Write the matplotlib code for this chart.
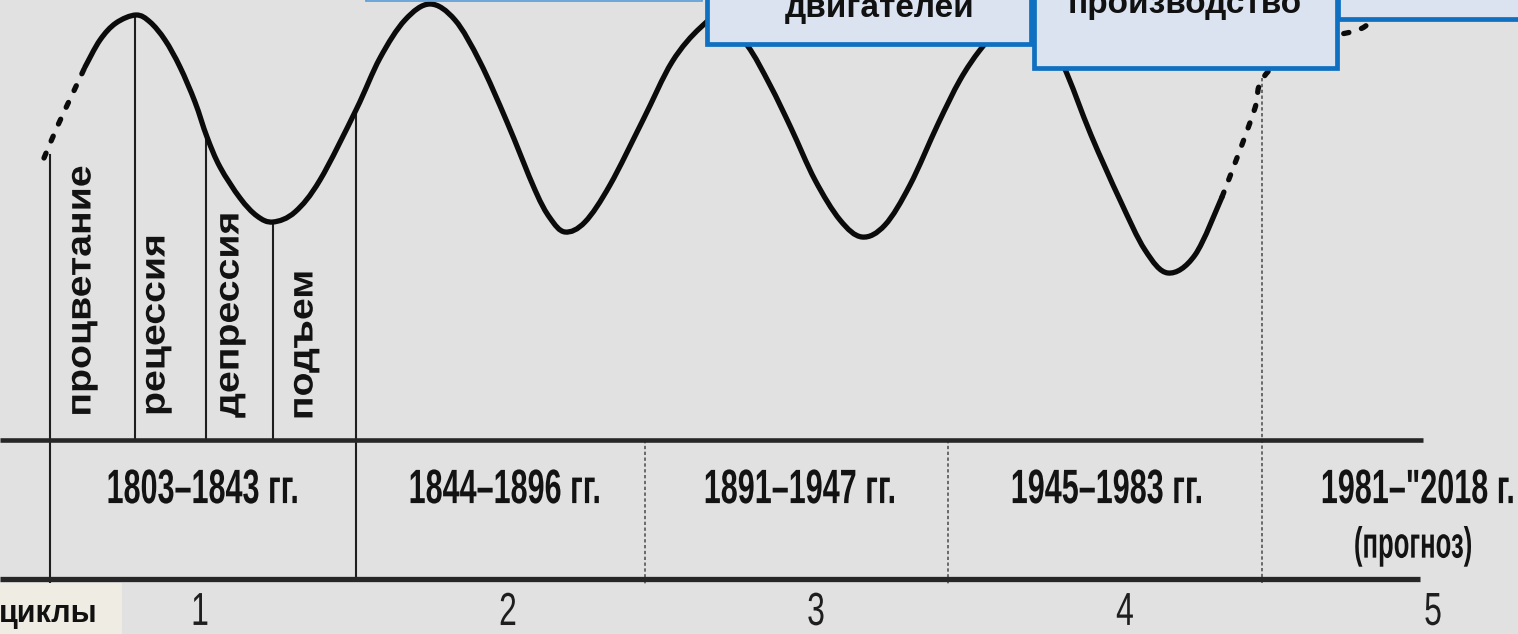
import matplotlib
matplotlib.use("Agg")
import matplotlib.pyplot as plt
from matplotlib.path import Path
from matplotlib.patches import PathPatch, Rectangle
from matplotlib.patheffects import AbstractPathEffect
from matplotlib.transforms import Affine2D
import numpy as np

plt.rcParams['font.family'] = ['Liberation Sans', 'DejaVu Sans']

# ---------------- data ----------------
phase_labels = ["процветание", "рецессия", "депрессия", "подъем"]
phase_bounds = [50, 135, 206, 273, 356]
phase_tops = [155, 15, 140, 222, 110]          # where each boundary meets the wave
phase_label_x = [81, 155, 229, 303]
phase_label_y = [291, 325, 315, 345]

period_labels = ["1803–1843 гг.", "1844–1896 гг.", "1891–1947 гг.",
                 "1945–1983 гг.", "1981–\"2018 г."]
period_label_x = [203, 505, 800, 1107, 1418]
period_note = "(прогноз)"
dotted_bounds = [645, 948, 1262]

cycle_numbers = ["1", "2", "3", "4", "5"]
cycle_x = [200, 508, 816, 1125, 1433]

box_labels = ["двигателей", "производство"]
row_label = "циклы"

# wave (solid part)
wave_x = [85, 100, 116, 136, 150, 165, 180, 195, 207, 220, 240, 257, 273,
          295, 320, 356, 380, 405, 430,
          455, 480, 507, 535, 550, 565,
          585, 610, 643, 672, 700, 720,
          747, 770, 791, 815, 840, 862,
          885, 910, 938, 960, 980, 1000, 1015,
          1040, 1063, 1091, 1120, 1145, 1168, 1195, 1222]
wave_y = [67, 40, 23, 15, 22, 40, 67, 102, 137, 167, 198, 216, 222,
          212, 180, 110, 58, 20, 4,
          20, 62, 122, 190, 218, 232,
          222, 185, 120, 62, 28, 18,
          45, 85, 128, 180, 220, 237,
          225, 185, 124, 80, 50, 28, 18,
          30, 65, 135, 200, 250, 273, 255, 197]
# dotted lead-in and lead-out
lead_in_x = [44, 58, 72, 85]
lead_in_y = [158, 125, 95, 67]
lead_out_x = [1222, 1240, 1255, 1263, 1300, 1358, 1372]
lead_out_y = [197, 150, 108, 78, 45, 30, 18]


# ---------------- helpers ----------------
class StretchY(AbstractPathEffect):
    """Stretch rendered text vertically around its own centre."""
    def __init__(self, sy):
        super().__init__()
        self.sy = sy

    def draw_path(self, renderer, gc, tpath, affine, rgbFace=None):
        ext = tpath.get_extents(affine)
        cy = 0.5 * (ext.y0 + ext.y1)
        a = affine + Affine2D().translate(0, -cy).scale(1, self.sy).translate(0, cy)
        renderer.draw_path(gc, tpath, a, rgbFace)


def smooth_path(xs, ys):
    p = np.column_stack([xs, ys]).astype(float)
    n = len(p)
    verts = [p[0]]
    codes = [Path.MOVETO]
    for i in range(n - 1):
        p0 = p[i - 1] if i > 0 else p[i]
        p1 = p[i]
        p2 = p[i + 1]
        p3 = p[i + 2] if i + 2 < n else p[i + 1]
        c1 = p1 + (p2 - p0) / 6.0
        c2 = p2 - (p3 - p1) / 6.0
        verts += [c1, c2, p2]
        codes += [Path.CURVE4] * 3
    return Path(verts, codes)


# ---------------- figure ----------------
fig = plt.figure(figsize=(15.18, 6.34), dpi=100)
bg = '#e1e1e1'
fig.patch.set_facecolor(bg)
ax = fig.add_axes([0, 0, 1, 1])
ax.set_facecolor(bg)
ax.set_xlim(0, 1518)
ax.set_ylim(634, 0)
ax.axis('off')

ink = '#131313'

# vertical phase boundaries
for i, (x, top) in enumerate(zip(phase_bounds, phase_tops)):
    bottom = 583 if i == 0 else (579 if i == len(phase_bounds) - 1 else 440)
    ax.plot([x, x], [top, bottom], color='#1e1e1e', lw=1.5, zorder=2)

# dotted period boundaries
for j, x in enumerate(dotted_bounds):
    top = 78 if j == len(dotted_bounds) - 1 else 440
    ax.plot([x, x], [top, 584], color='#555555', lw=1.2, ls=(0, (2, 1.5)), zorder=2)

# horizontal rules
ax.plot([0, 1423], [440, 440], color='#262626', lw=3.3, zorder=3, solid_capstyle='butt')
ax.plot([0, 1420], [579, 579], color='#262626', lw=3.8, zorder=3, solid_capstyle='butt')

# the wave
ax.add_patch(PathPatch(smooth_path(wave_x, wave_y), fill=False, edgecolor='#0b0b0b',
                       lw=3.8, capstyle='round', joinstyle='round', zorder=4))
for xs, ys in [(lead_in_x, lead_in_y), (lead_out_x, lead_out_y)]:
    ax.add_patch(PathPatch(smooth_path(xs, ys), fill=False, edgecolor='#0b0b0b',
                           lw=3.8, linestyle=(0, (1.0, 2.5)), capstyle='round', zorder=4))

# rotated phase labels
for lab, x, y in zip(phase_labels, phase_label_x, phase_label_y):
    ax.text(x, y, lab, rotation=90, ha='center', va='center', fontsize=25,
            fontweight='bold', color=ink, zorder=5,
            path_effects=[StretchY(1.13)])

# period labels
for lab, x in zip(period_labels, period_label_x):
    ax.text(x, 489, lab, ha='center', va='center', fontsize=22, fontweight='bold',
            color=ink, zorder=5, path_effects=[StretchY(1.58)])
ax.text(1413, 546, period_note, ha='center', va='center', fontsize=18.5,
        fontweight='bold', color=ink, zorder=5, path_effects=[StretchY(1.7)])

# cycle numbers
for lab, x in zip(cycle_numbers, cycle_x):
    ax.text(x, 612, lab, ha='center', va='center', fontsize=23, color='#1e1e1e',
            zorder=5, path_effects=[StretchY(1.45)])

# "циклы" tag
ax.add_patch(Rectangle((-5, 583), 127, 60, facecolor='#efece3', edgecolor='none', zorder=6))
ax.text(-1, 622, row_label, ha='left', va='baseline', fontsize=22, fontweight='bold',
        color='#111111', zorder=7)

# top boxes (cut by the frame)
box_face = '#dae3ef'
box_edge = '#0f6fc0'
ax.add_patch(Rectangle((366, -30), 336, 31, facecolor=box_face, edgecolor='#5b9bd5',
                       lw=1.2, zorder=8))
ax.add_patch(Rectangle((1338, -30), 200, 49, facecolor=box_face, edgecolor=box_edge,
                       lw=3.4, zorder=8))
ax.add_patch(Rectangle((707, -30), 324, 74, facecolor=box_face, edgecolor=box_edge,
                       lw=3.4, zorder=9))
ax.add_patch(Rectangle((1034, -30), 303, 98, facecolor=box_face, edgecolor=box_edge,
                       lw=3.4, zorder=10))
ax.text(880, 17, box_labels[0], ha='center', va='baseline', fontsize=24,
        fontweight='bold', color='#111111', zorder=11)
ax.text(1185, 13, box_labels[1], ha='center', va='baseline', fontsize=24,
        fontweight='bold', color='#111111', zorder=11)

fig.savefig('out.png', dpi=100, facecolor=bg)
